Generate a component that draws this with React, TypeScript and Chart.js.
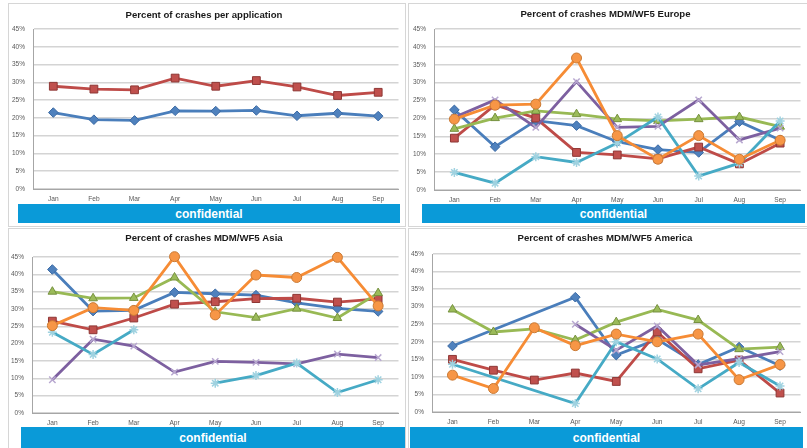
import React, { useEffect, useRef } from 'react';
import { Chart, registerables } from 'chart.js';
Chart.register(...registerables);

const MONTHS = ['Jan', 'Feb', 'Mar', 'Apr', 'May', 'Jun', 'Jul', 'Aug', 'Sep'];
const Y_MIN = 0;
const Y_MAX = 45;
const Y_STEP = 5;

const APP_BLUE = [21.5, 19.5, 19.3, 22.0, 21.9, 22.1, 20.6, 21.3, 20.5];
const APP_RED = [28.9, 28.1, 27.9, 31.2, 28.9, 30.5, 28.7, 26.3, 27.2];

const EU_BLUE = [22.4, 12.1, 19.4, 18.0, 13.5, 11.3, 10.5, 19.1, 14.0];
const EU_RED = [14.5, 23.8, 20.1, 10.5, 9.8, 8.7, 12.0, 7.3, 13.1];
const EU_GREEN = [17.1, 20.1, 22.1, 21.2, 19.8, 19.3, 19.8, 20.4, 17.7];
const EU_PURPLE = [20.3, 25.2, 17.5, 30.3, 17.5, 17.8, 25.2, 14.0, 17.3];
const EU_CYAN = [4.9, 1.9, 9.3, 7.7, 13.1, 20.4, 3.9, 7.5, 19.3];
const EU_ORANGE = [19.8, 23.7, 24.0, 36.9, 15.2, 8.6, 15.2, 8.6, 13.9];

const ASIA_BLUE = [41.4, 29.4, 29.6, 34.8, 34.4, 34.0, 31.8, 30.2, 29.3];
const ASIA_RED = [26.5, 24.0, 27.4, 31.4, 32.1, 33.0, 33.1, 32.0, 32.9];
const ASIA_GREEN = [35.0, 33.1, 33.2, 39.1, 29.2, 27.5, 30.1, 27.4, 34.6];
const ASIA_PURPLE = [9.6, 21.3, 19.3, 11.8, 14.9, 14.6, 14.2, 17.0, 16.0];
const ASIA_CYAN = [23.3, 16.9, 24.0, null, 8.6, 10.8, 14.4, 5.9, 9.6];
const ASIA_ORANGE = [25.2, 30.4, 29.6, 45.1, 28.3, 39.8, 39.1, 44.9, 30.9];

const AM_BLUE = [18.8, null, null, 32.7, 16.2, 20.7, 13.5, 18.5, 13.2];
const AM_RED = [15.0, 11.9, 9.1, 11.1, 8.7, 22.8, 12.3, 14.8, 5.4];
const AM_GREEN = [29.2, 22.8, 23.7, 20.5, 25.6, 29.2, 26.2, 17.9, 18.5];
const AM_PURPLE = [null, null, null, 25.0, 17.6, 24.5, 13.4, 15.2, 17.2];
const AM_CYAN = [13.6, null, null, 2.4, 20.0, 15.1, 6.6, 14.1, 7.4];
const AM_ORANGE = [10.5, 6.7, 24.0, 18.9, 22.2, 20.0, 22.2, 9.2, 13.5];

const TITLES = [
  'Percent of crashes per application',
  'Percent of crashes MDM/WF5 Europe',
  'Percent of crashes MDM/WF5 Asia',
  'Percent of crashes MDM/WF5 America',
];
const BANNER_TEXT = 'confidential';

type Style = { color: string; fill: string; edge: string; point: string; r: number; bw: number };
const STYLES: Style[] = [
  { color: '#4a7ebb', fill: '#4f81bd', edge: '#3a69a3', point: 'rectRot', r: 4.8, bw: 1 },
  { color: '#be4b48', fill: '#c0504d', edge: '#8e3735', point: 'rect', r: 5.5, bw: 1 },
  { color: '#98b954', fill: '#9bbb59', edge: '#76913f', point: 'triangle', r: 5, bw: 1 },
  { color: '#7d60a0', fill: '#c5b8d8', edge: '#b8a8d0', point: 'crossRot', r: 4.5, bw: 1.5 },
  { color: '#46aac5', fill: '#a5d5e2', edge: '#9fd2e0', point: 'star', r: 4.5, bw: 1.5 },
  { color: '#f68c35', fill: '#f79646', edge: '#c97a35', point: 'circle', r: 5, bw: 1 },
];

type Series = { data: (number | null)[]; style: number; span?: boolean };

type Layout = {
  x: number; y: number; w: number; h: number;
  yW: number; xH: number; padR: number; tTop: number; tBot: number;
};

function LineChart({ title, series, lay }: { title: string; series: Series[]; lay: Layout }) {
  const ref = useRef<HTMLCanvasElement>(null);
  useEffect(() => {
    const n = series.length;
    const chart = new Chart(ref.current!, {
      type: 'line',
      data: {
        labels: MONTHS,
        datasets: series.map((s, i) => {
          const st = STYLES[s.style];
          return {
            data: s.data,
            borderColor: st.color,
            borderWidth: 2.8,
            backgroundColor: st.fill,
            pointStyle: st.point as any,
            pointRadius: st.r,
            pointBackgroundColor: st.fill,
            pointBorderColor: st.edge,
            pointBorderWidth: st.bw,
            spanGaps: !!s.span,
            tension: 0,
            fill: false,
            clip: false as any,
            order: n - i,
          };
        }),
      },
      options: {
        responsive: false,
        animation: false,
        layout: { padding: { left: 0, right: lay.padR, top: 0, bottom: 0 } },
        plugins: {
          legend: { display: false },
          tooltip: { enabled: false },
          title: {
            display: true,
            text: title,
            color: '#1a1a1a',
            font: { family: 'Liberation Sans', size: 9.6, weight: 'bold', lineHeight: 1.2 },
            padding: { top: lay.tTop, bottom: lay.tBot },
          },
        },
        scales: {
          x: {
            offset: true,
            grid: { display: false, drawTicks: false },
            border: { display: true, color: '#a6a6a6', width: 1 },
            ticks: { color: '#595959', font: { family: 'Liberation Sans', size: 6.6 }, padding: 6, maxRotation: 0 },
            afterFit: (sc: any) => { sc.height = lay.xH; },
          },
          y: {
            min: Y_MIN,
            max: Y_MAX,
            ticks: {
              stepSize: Y_STEP,
              color: '#595959',
              font: { family: 'Liberation Sans', size: 6.5 },
              padding: 8,
              callback: (v: any) => v + '%',
            },
            grid: { color: '#d4d4d4', lineWidth: 1.5, drawTicks: false },
            border: { display: true, color: '#a6a6a6', width: 1 },
            afterFit: (sc: any) => { sc.width = lay.yW; },
          },
        },
      },
    });
    return () => chart.destroy();
  }, []);
  return (
    <canvas
      ref={ref}
      width={lay.w}
      height={lay.h}
      style={{ position: 'absolute', left: lay.x, top: lay.y, width: lay.w, height: lay.h }}
    />
  );
}

function Banner({ x, y, w, h }: { x: number; y: number; w: number; h: number }) {
  return (
    <div
      style={{
        position: 'absolute', left: x, top: y, width: w, height: h,
        background: '#0a9ad8', color: '#ffffff',
        fontFamily: 'Liberation Sans', fontWeight: 'bold', fontSize: 12,
        display: 'flex', alignItems: 'center', justifyContent: 'center',
      }}
    >
      {BANNER_TEXT}
    </div>
  );
}

function Frame({ x, y, w, h }: { x: number; y: number; w: number; h: number }) {
  return (
    <div style={{ position: 'absolute', left: x, top: y, width: w, height: h, border: '1px solid #d6d6d6', boxSizing: 'border-box', background: '#fff' }} />
  );
}

export default function App() {
  const s = (data: (number | null)[], style: number, span = false): Series => ({ data, style, span });
  return (
    <div style={{ position: 'fixed', left: 0, top: 0, width: 807, height: 448, background: '#fff', overflow: 'hidden' }}>
      <Frame x={8} y={3} w={398} h={224} />
      <Frame x={408} y={3} w={402} h={224} />
      <Frame x={8} y={228} w={398} h={224} />
      <Frame x={408} y={228} w={402} h={224} />

      <LineChart
        title={TITLES[0]}
        series={[s(APP_BLUE, 0), s(APP_RED, 1)]}
        lay={{ x: 8, y: 3, w: 397, h: 201, yW: 25, xH: 15, padR: 5, tTop: 6.2, tBot: 8.3 }}
      />
      <LineChart
        title={TITLES[1]}
        series={[s(EU_BLUE, 0), s(EU_RED, 1), s(EU_GREEN, 2), s(EU_PURPLE, 3), s(EU_CYAN, 4), s(EU_ORANGE, 5)]}
        lay={{ x: 408, y: 3, w: 399, h: 201, yW: 26, xH: 14, padR: 4, tTop: 5.8, tBot: 8.7 }}
      />
      <LineChart
        title={TITLES[2]}
        series={[s(ASIA_BLUE, 0), s(ASIA_RED, 1), s(ASIA_GREEN, 2), s(ASIA_PURPLE, 3), s(ASIA_CYAN, 4), s(ASIA_ORANGE, 5)]}
        lay={{ x: 8, y: 228, w: 397, h: 199, yW: 24, xH: 14, padR: 5, tTop: 5.0, tBot: 12.5 }}
      />
      <LineChart
        title={TITLES[3]}
        series={[s(AM_BLUE, 0, true), s(AM_RED, 1), s(AM_GREEN, 2), s(AM_PURPLE, 3), s(AM_CYAN, 4, true), s(AM_ORANGE, 5)]}
        lay={{ x: 408, y: 228, w: 399, h: 199, yW: 24, xH: 15, padR: 5, tTop: 5.0, tBot: 9.5 }}
      />

      <Banner x={18} y={204} w={382} h={19} />
      <Banner x={422} y={204} w={383} h={19} />
      <Banner x={21} y={427} w={384} h={21} />
      <Banner x={410} y={427} w={393} h={21} />
    </div>
  );
}
